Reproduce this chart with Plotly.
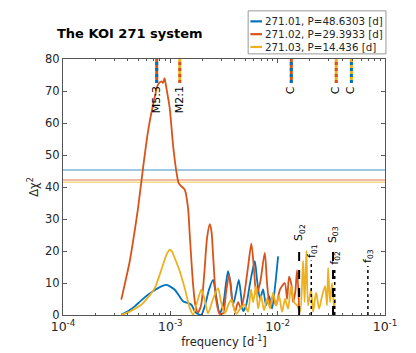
import numpy as np
import plotly.graph_objects as go

# Periods of the three KOI 271 candidates [d]
names = ['271.01', '271.02', '271.03']
periods = [48.6303, 29.3933, 14.436]
colors = ['#0072BD', '#D95319', '#EDB120']

# Delta chi^2 periodograms (log10 of frequency in 1/d)
logf_01 = [-3.457, -3.394, -3.332, -3.273, -3.208, -3.115, -3.037, -2.959, -2.919, -2.882,
           -2.835, -2.804, -2.773, -2.742, -2.711, -2.677, -2.639, -2.602, -2.574, -2.540,
           -2.509, -2.481, -2.462, -2.439, -2.416, -2.388, -2.362, -2.341, -2.322, -2.294,
           -2.257, -2.213, -2.192, -2.164, -2.136, -2.108, -2.080, -2.052, -2.024, -1.996]
dchi_01 = [0.1, 1.2, 2.7, 4.5, 6.3, 8.4, 9.4, 7.9, 6, 4.3,
           3.7, 3.2, 1.2, 0.3, 0.1, 3, 8, 11, 6, 0.6,
           3, 10, 13.7, 10, 3.2, 7, 11, 6, 1.2, 3,
           10, 16.8, 11, 5, 8, 3, 6, 2, 9, 18.3]

logf_02 = [-3.457, -3.422, -3.378, -3.338, -3.301, -3.254, -3.208, -3.161, -3.115, -3.084,
           -3.068, -3.054, -3.037, -3.006, -2.975, -2.944, -2.922, -2.896, -2.866, -2.835,
           -2.819, -2.788, -2.767, -2.742, -2.714, -2.686, -2.658, -2.633, -2.616, -2.602,
           -2.571, -2.540, -2.509, -2.481, -2.453, -2.425, -2.397, -2.369, -2.341, -2.313,
           -2.276, -2.245, -2.220, -2.198, -2.164, -2.120, -2.099, -2.074, -2.043, -2.015,
           -1.978, -1.934, -1.912, -1.894, -1.872, -1.856, -1.835, -1.819, -1.800]
dchi_02 = [4.8, 10, 16.8, 25, 33.4, 46, 57.4, 65.7, 72, 73,
           72.5, 74, 71, 64.7, 53.2, 44.9, 41.2, 40.2, 39.2, 33.4,
           25, 9.5, 3.2, 0.8, 3, 12, 24, 28.4, 26, 18.8,
           4.3, 0.3, 0.5, 7, 12.5, 5, 1, 4, 2, 6,
           15, 22.3, 14, 6.3, 10, 19.4, 10, 3.2, 6, 3,
           8, 10, 5, 12, 9.5, 4, 7.5, 14, 2]

logf_03 = [-3.457, -3.394, -3.329, -3.270, -3.208, -3.145, -3.105, -3.068, -3.040, -3.006,
           -2.984, -2.959, -2.912, -2.866, -2.819, -2.788, -2.751, -2.711, -2.681, -2.649,
           -2.602, -2.555, -2.527, -2.493, -2.462, -2.431, -2.406, -2.385, -2.350, -2.307,
           -2.276, -2.248, -2.229, -2.201, -2.183, -2.155, -2.127, -2.099, -2.071, -2.043,
           -2.015, -1.987, -1.959, -1.931, -1.903, -1.875, -1.847, -1.819, -1.791, -1.763,
           -1.749, -1.732, -1.717, -1.689, -1.670, -1.642, -1.614, -1.586, -1.558, -1.540,
           -1.530, -1.512, -1.493, -1.474, -1.465]
dchi_03 = [0, 0.8, 2, 3.2, 5.5, 8.4, 12, 15.7, 18.5, 20.4,
           19.8, 17.8, 13.6, 8.4, 2.2, 0.1, 4, 7.9, 5, 0.5,
           5, 8.4, 4, 0.5, 3, 4.8, 2, 0.3, 2, 3.2,
           1, 8, 4, 9, 2, 6, 1.5, 5, 2, 7,
           3, 6, 1, 5, 2, 9, 4, 3, 1, 17,
           4, 20, 3, 8, 1, 7, 2, 6, 9, 3,
           14.7, 4, 10, 2, 5]

# Significance thresholds (one per planet)
thresholds = [45.3, 42.2, 41.5]

# Resonance / commensurability markers at the top of the panel
top_logf = [-3.127, -2.912, -1.873, -1.454, -1.313]
top_labels = ['M5:3', 'M2:1', 'C', 'C', 'C']
top_pairs = [(1, 0), (2, 1), (1, 0), (2, 1), (2, 0)]
top_span = [72.5, 80]

# Markers at the bottom: super-periods (dashed) and orbital frequencies (dotted)
s_logf = [-1.800, -1.484]
s_top = [21.9, 21.2]
s_labels = ['S<sub>02</sub>', 'S<sub>03</sub>']
f_top = [17.0, 14.7, 15.3]
f_labels = ['f<sub>01</sub>', 'f<sub>02</sub>', 'f<sub>03</sub>']

# axis ticks
x_ticks = [1e-4, 1e-3, 1e-2, 1e-1]
x_ticktext = ['10<sup>-4</sup>', '10<sup>-3</sup>', '10<sup>-2</sup>', '10<sup>-1</sup>']
y_ticks = [0, 10, 20, 30, 40, 50, 60, 70, 80]

font_main = 'DejaVu Sans'
ink = '#262626'

fig = go.Figure()

# threshold lines
for c, t in zip(colors, thresholds):
    fig.add_trace(go.Scatter(
        x=[1e-4, 1e-1], y=[t, t], mode='lines', showlegend=False, hoverinfo='skip',
        line=dict(color=c, width=1.5), opacity=0.5
    ))

# periodograms
curves = [(logf_01, dchi_01), (logf_02, dchi_02), (logf_03, dchi_03)]
for i, (lf, d) in enumerate(curves):
    fig.add_trace(go.Scatter(
        x=10 ** np.array(lf), y=d, mode='lines', showlegend=False,
        name=f'{names[i]}, P={periods[i]} [d]',
        line=dict(color=colors[i], width=1.8, shape='spline', smoothing=0.7)
    ))

annotations = []
shapes = []

# top markers: two-coloured dotted ticks
for lf, lab, (a, b) in zip(top_logf, top_labels, top_pairs):
    xx = [10 ** lf, 10 ** lf]
    fig.add_trace(go.Scatter(x=xx, y=top_span, mode='lines', showlegend=False,
                             hoverinfo='skip', line=dict(color=colors[a], width=3)))
    fig.add_trace(go.Scatter(x=xx, y=top_span, mode='lines', showlegend=False,
                             hoverinfo='skip', line=dict(color=colors[b], width=3, dash='dot')))
    annotations.append(dict(x=lf, y=top_span[0] - 0.3, xref='x', yref='y', text=lab,
                            textangle=-90, showarrow=False, xanchor='center', yanchor='top',
                            font=dict(size=11, color='black', family=font_main)))

# super-period markers
for lf, top, lab in zip(s_logf, s_top, s_labels):
    fig.add_trace(go.Scatter(x=[10 ** lf] * 2, y=[0, top], mode='lines', showlegend=False,
                             hoverinfo='skip', line=dict(color='black', width=2, dash='dash')))
    annotations.append(dict(x=lf, y=top + 0.5, xref='x', yref='y', text=lab,
                            textangle=-90, showarrow=False, xanchor='center', yanchor='bottom',
                            font=dict(size=11, color='black', family=font_main)))

# orbital frequency markers
for p, top, lab in zip(periods, f_top, f_labels):
    lf = np.log10(1.0 / p)
    fig.add_trace(go.Scatter(x=[1.0 / p] * 2, y=[0, top], mode='lines', showlegend=False,
                             hoverinfo='skip', line=dict(color='black', width=1.5, dash='dot')))
    annotations.append(dict(x=lf, y=top + 0.3, xref='x', yref='y', text=lab,
                            textangle=-90, showarrow=False, xanchor='center', yanchor='bottom',
                            font=dict(size=11, color='black', family=font_main)))

# title
annotations.append(dict(x=-0.025, y=1.10, xref='paper', yref='paper', text='<b>The KOI 271 system</b>',
                        showarrow=False, xanchor='left', yanchor='middle',
                        font=dict(size=13, color='black', family=font_main)))

# compact legend box (top right, above the axes)
shapes.append(dict(type='rect', xref='paper', yref='paper', x0=0.575, x1=1.003, y0=1.02, y1=1.188,
                   line=dict(color='#999', width=1), fillcolor='white', layer='above'))
leg_y = [1.147, 1.097, 1.047]
for i in range(3):
    shapes.append(dict(type='line', xref='paper', yref='paper', x0=0.582, x1=0.618,
                       y0=leg_y[i], y1=leg_y[i], line=dict(color=colors[i], width=2.2),
                       layer='above'))
    annotations.append(dict(x=0.621, y=leg_y[i], xref='paper', yref='paper',
                            text=f'{names[i]}, P={periods[i]} [d]', showarrow=False,
                            xanchor='left', yanchor='middle',
                            font=dict(size=10.3, color=ink, family=font_main)))

minor_x = [k * 10.0 ** e for e in (-4, -3, -2) for k in range(2, 10)]

fig.update_xaxes(
    type='log', range=[-4, -1], tickmode='array', tickvals=x_ticks, ticktext=x_ticktext,
    showline=True, linecolor='#555', linewidth=1, mirror='allticks',
    ticks='inside', ticklen=4, tickcolor='#555', showgrid=False, zeroline=False,
    minor=dict(ticks='inside', ticklen=2, tickcolor='#555', showgrid=False,
               tickmode='array', tickvals=minor_x),
    tickfont=dict(size=12.5, color=ink),
    title=dict(text='frequency [d<sup>-1</sup>]', font=dict(size=11.5, color=ink), standoff=4)
)
fig.update_yaxes(
    range=[0, 80], tickmode='array', tickvals=y_ticks,
    showline=True, linecolor='#555', linewidth=1, mirror='allticks',
    ticks='inside', ticklen=4, tickcolor='#555', showgrid=False, zeroline=False,
    tickfont=dict(size=11.5, color=ink),
    title=dict(text='Δχ<sup>2</sup>', font=dict(size=11.5, color=ink), standoff=4)
)

fig.update_layout(
    width=416, height=353,
    margin=dict(l=55, r=39, t=51, b=46, autoexpand=False),
    plot_bgcolor='white', paper_bgcolor='white',
    font=dict(family=font_main, size=11, color=ink),
    annotations=annotations,
    shapes=shapes,
    showlegend=False
)

fig.write_html('out.html')
